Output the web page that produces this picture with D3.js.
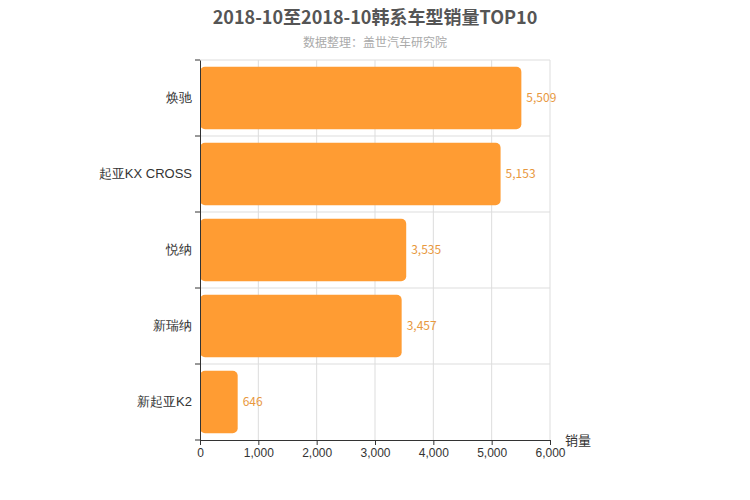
<!DOCTYPE html>
<html><head><meta charset="utf-8">
<script src="https://cdn.jsdelivr.net/npm/d3@7"></script>
<style>body{margin:0;font-family:"Noto Sans CJK SC","Noto Sans",sans-serif;}</style>
</head><body>
<svg id="chart" width="750" height="500"></svg>
<script>
  // chart data
  const categories = ["焕驰", "起亚KX CROSS", "悦纳", "新瑞纳", "新起亚K2"];
  const sales = [5509, 5153, 3535, 3457, 646];
  const ticks = [0, 1000, 2000, 3000, 4000, 5000, 6000];

  const svg = d3.select("#chart");
  const plotLeft = 200, plotRight = 550, plotTop = 60, plotBottom = 440;

  const x = d3.scaleLinear().domain([0, 6000]).range([plotLeft, plotRight]);
  const y = d3.scaleBand().domain(categories).range([plotTop, plotBottom]).paddingInner(0.18).paddingOuter(0.09);
  const yb = d3.scaleBand().domain(categories).range([plotTop, plotBottom]);

  // title
  svg.append("text").attr("x", 375).attr("y", 24).attr("text-anchor", "middle")
     .attr("font-size", 18).attr("font-weight", "bold").attr("fill", "#555")
     .text("2018-10至2018-10韩系车型销量TOP10");
  svg.append("text").attr("x", 375).attr("y", 47).attr("text-anchor", "middle")
     .attr("font-size", 12).attr("fill", "#aaa").text("数据整理：盖世汽车研究院");

  // grid lines
  svg.selectAll(".vg").data(ticks.slice(1)).enter().append("line")
     .attr("x1", d => x(d)).attr("x2", d => x(d)).attr("y1", plotTop).attr("y2", plotBottom)
     .attr("stroke", "#ddd");
  svg.selectAll(".hg").data(categories).enter().append("line")
     .attr("x1", plotLeft).attr("x2", plotRight).attr("y1", d => yb(d)).attr("y2", d => yb(d))
     .attr("stroke", "#ddd");

  // bars
  svg.selectAll(".bar").data(categories).enter().append("rect")
     .attr("x", x(0)).attr("y", d => y(d))
     .attr("width", (d, i) => x(sales[i]) - x(0)).attr("height", y.bandwidth())
     .attr("rx", 5).attr("fill", "#ff9c33");

  svg.selectAll(".val").data(categories).enter().append("text")
     .attr("x", (d, i) => x(sales[i]) + 5).attr("y", d => y(d) + y.bandwidth() / 2 + 4)
     .attr("font-size", 12).attr("fill", "#e8983d")
     .text((d, i) => d3.format(",")(sales[i]));

  // axes
  const xAxis = svg.append("g").attr("transform", `translate(0,${plotBottom})`)
     .call(d3.axisBottom(x).tickValues(ticks).tickFormat(d3.format(",")).tickSize(5));
  xAxis.selectAll("text").attr("font-size", 12).attr("fill", "#333");
  xAxis.selectAll("path,line").attr("stroke", "#333");

  const yAxis = svg.append("g").attr("transform", `translate(${plotLeft},0)`)
     .call(d3.axisLeft(yb).tickSize(0).tickPadding(8));
  yAxis.selectAll("text").attr("font-size", 13).attr("fill", "#333");
  yAxis.select("path").attr("stroke", "#333");
  svg.selectAll(".yt").data(categories.concat(["end"])).enter().append("line")
     .attr("x1", plotLeft - 5).attr("x2", plotLeft)
     .attr("y1", (d, i) => i < categories.length ? yb(d) : plotBottom)
     .attr("y2", (d, i) => i < categories.length ? yb(d) : plotBottom)
     .attr("stroke", "#333");

  svg.append("text").attr("x", 565).attr("y", 445).attr("font-size", 13).attr("fill", "#333").text("销量");
</script>
</body></html>
